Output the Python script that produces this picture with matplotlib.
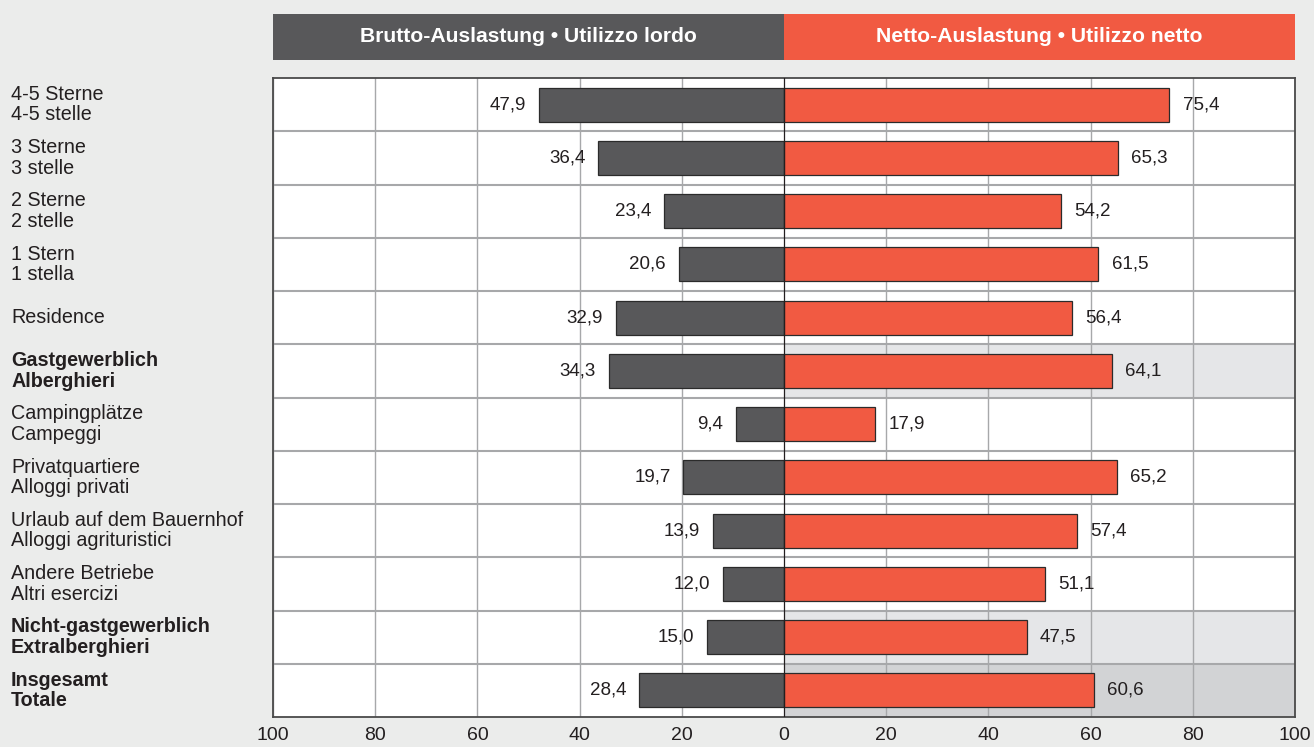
import matplotlib.pyplot as plt
import matplotlib.transforms as mtransforms
from matplotlib.patches import Rectangle
import numpy as np

plt.rcParams['font.family'] = ['Liberation Sans', 'DejaVu Sans']

#%% data
categories = ['4-5 Sterne\n4-5 stelle', '3 Sterne\n3 stelle', '2 Sterne\n2 stelle',
              '1 Stern\n1 stella', 'Residence', 'Gastgewerblich\nAlberghieri',
              'Campingplätze\nCampeggi', 'Privatquartiere\nAlloggi privati',
              'Urlaub auf dem Bauernhof\nAlloggi agrituristici',
              'Andere Betriebe\nAltri esercizi', 'Nicht-gastgewerblich\nExtralberghieri',
              'Insgesamt\nTotale']
brutto = [47.9, 36.4, 23.4, 20.6, 32.9, 34.3, 9.4, 19.7, 13.9, 12.0, 15.0, 28.4]
netto = [75.4, 65.3, 54.2, 61.5, 56.4, 64.1, 17.9, 65.2, 57.4, 51.1, 47.5, 60.6]
bold_rows = [5, 10, 11]
shade_rows = {5: '#e5e6e8', 10: '#e5e6e8', 11: '#d2d3d5'}
tick_vals = [-100, -80, -60, -40, -20, 0, 20, 40, 60, 80, 100]
header_left = 'Brutto-Auslastung • Utilizzo lordo'
header_right = 'Netto-Auslastung • Utilizzo netto'

bg = '#ebeceb'
dark = '#58585a'
red = '#f15a42'
txt = '#231f20'

#%% figure
fig = plt.figure(figsize=(13.14, 7.47), dpi=100, facecolor=bg)
ax = fig.add_axes([273/1314, 1-717/747, (1295-273)/1314, (717-78)/747])
ax.set_facecolor('white')

n = len(categories)
y = np.arange(n)

for r, c in shade_rows.items():
    ax.add_patch(Rectangle((0, r-0.5), 100, 1, facecolor=c, edgecolor='none', zorder=0))

ax.barh(y, [-b for b in brutto], height=0.64, color=dark, edgecolor='#2b2b2b', linewidth=0.9, zorder=3)
ax.barh(y, netto, height=0.64, color=red, edgecolor='#2b2b2b', linewidth=0.9, zorder=3)

for v in tick_vals:
    if v != 0:
        ax.axvline(v, color='#a7a8aa', lw=1.0, zorder=1)
for k in range(n-1):
    ax.axhline(k+0.5, color='#a7a8aa', lw=1.5, zorder=1)
ax.axvline(0, color='#231f20', lw=0.9, zorder=4)

for i in range(n):
    ax.text(-brutto[i]-2.5, y[i], f'{brutto[i]:.1f}'.replace('.', ','), ha='right', va='center',
            fontsize=13.5, color=txt, zorder=5)
    ax.text(netto[i]+2.6, y[i], f'{netto[i]:.1f}'.replace('.', ','), ha='left', va='center',
            fontsize=13.5, color=txt, zorder=5)

ax.set_xlim(-100, 100)
ax.set_ylim(n-0.5, -0.5)
ax.set_xticks(tick_vals)
ax.set_xticklabels([str(abs(v)) for v in tick_vals], fontsize=14, color=txt)
ax.tick_params(axis='x', length=0, pad=7)
ax.set_yticks([])
for s in ax.spines.values():
    s.set_color('#4a4a4a')
    s.set_linewidth(1.3)

trans = mtransforms.blended_transform_factory(fig.transFigure, ax.transData)
for i, c in enumerate(categories):
    ax.text(11/1314, y[i], c, transform=trans, ha='left', va='center', fontsize=14.2,
            color=txt, fontweight='bold' if i in bold_rows else 'normal', linespacing=1.1)

# header boxes
x0, xm, x1 = 273/1314, 784/1314, 1295/1314
hy0, hy1 = 1-60/747, 1-14/747
fig.patches.append(Rectangle((x0, hy0), xm-x0, hy1-hy0, transform=fig.transFigure,
                             facecolor=dark, edgecolor='none'))
fig.patches.append(Rectangle((xm, hy0), x1-xm, hy1-hy0, transform=fig.transFigure,
                             facecolor=red, edgecolor='none'))
fig.text((x0+xm)/2, (hy0+hy1)/2, header_left, ha='center', va='center', color='white',
         fontsize=15.2, fontweight='bold')
fig.text((xm+x1)/2, (hy0+hy1)/2, header_right, ha='center', va='center', color='white',
         fontsize=15.2, fontweight='bold')

fig.savefig('out.png', dpi=100, facecolor=bg)
